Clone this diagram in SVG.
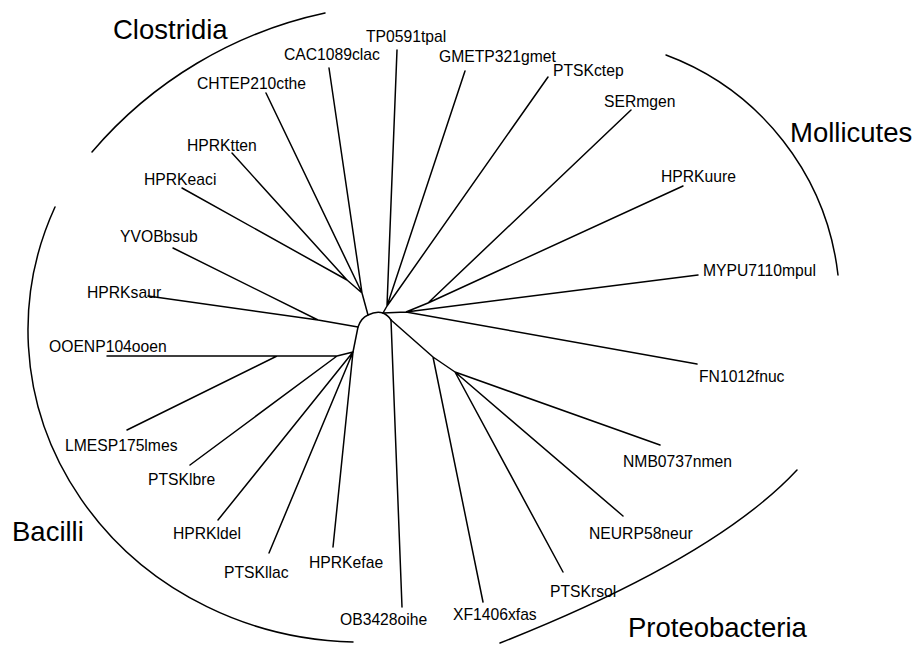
<svg xmlns="http://www.w3.org/2000/svg" width="915" height="645" viewBox="0 0 915 645">
<style>
text { font-family: "Liberation Sans", Arial, Helvetica, sans-serif; fill: #000; }
.lf { font-size: 15.7px; }
.cl { font-size: 27.5px; }
.br { stroke: #000; stroke-width: 1.5; fill: none; stroke-linecap: round; stroke-linejoin: round; }
</style>
<rect width="915" height="645" fill="#fff"/>
<g id="clades">
  <g id="clade-clostridia"><path class="br" d="M92,152 A422,422 0 0 1 325,13"/><text class="cl" x="113" y="39">Clostridia</text></g>
  <g id="clade-mollicutes"><path class="br" d="M666,55 A267,267 0 0 1 838,275"/><text class="cl" x="790" y="142">Mollicutes</text></g>
  <g id="clade-bacilli"><path class="br" d="M55,207 A333,312 0 0 0 353,642"/><text class="cl" x="12" y="541">Bacilli</text></g>
  <g id="clade-proteobacteria"><path class="br" d="M797,470 Q715,558 500,643"/><text class="cl" x="628" y="637">Proteobacteria</text></g>
</g>
<g id="connectors">
  <path class="br" d="M397,50 L387,306 M465,71 L387,306 M548,77 L387,306 M387,306 L383,313"/>
  <path class="br" d="M329,68 L362,293 M266,93 L362,293 M232,153 L347,280 M182,188 L347,280 M347,280 L362,293 M362,293 L368,315"/>
  <path class="br" d="M358,327 Q361,318 368,315 Q376,311 383,313 Q388,315 391,320"/>
  <path class="br" d="M173,248 L318,320 M148,296 L318,320 M318,320 L358,327 M358,327 L353,352"/>
  <path class="br" d="M107,356 L337,356 L353,352 M127,430 L277,356 M190,465 L337,356 M218,520 L353,352 M269,553 L353,352 M333,547 L353,352"/>
  <path class="br" d="M391,320 L402,607"/>
  <path class="br" d="M391,320 L433,357 L455,372 L660,445 M433,357 L483,602 M455,372 L623,516 M455,372 L563,572"/>
  <path class="br" d="M383,313 L406,312 L428,303 L631,110 M428,303 L683,186 M406,312 L698,275 M406,312 L697,364"/>
</g>
<g id="TP0591tpal"><text class="lf" x="366" y="42">TP0591tpal</text></g>
<g id="CAC1089clac"><text class="lf" x="284" y="60">CAC1089clac</text></g>
<g id="CHTEP210cthe"><text class="lf" x="197" y="89">CHTEP210cthe</text></g>
<g id="GMETP321gmet"><text class="lf" x="439" y="62">GMETP321gmet</text></g>
<g id="PTSKctep"><text class="lf" x="553" y="76">PTSKctep</text></g>
<g id="SERmgen"><text class="lf" x="604" y="107">SERmgen</text></g>
<g id="HPRKuure"><text class="lf" x="661" y="182">HPRKuure</text></g>
<g id="MYPU7110mpul"><text class="lf" x="703" y="276">MYPU7110mpul</text></g>
<g id="FN1012fnuc"><text class="lf" x="699" y="382">FN1012fnuc</text></g>
<g id="NMB0737nmen"><text class="lf" x="623" y="467">NMB0737nmen</text></g>
<g id="NEURP58neur"><text class="lf" x="589" y="539">NEURP58neur</text></g>
<g id="PTSKrsol"><text class="lf" x="550" y="597">PTSKrsol</text></g>
<g id="XF1406xfas"><text class="lf" x="453" y="620">XF1406xfas</text></g>
<g id="OB3428oihe"><text class="lf" x="340" y="625">OB3428oihe</text></g>
<g id="HPRKefae"><text class="lf" x="309" y="568">HPRKefae</text></g>
<g id="PTSKllac"><text class="lf" x="224" y="578">PTSKllac</text></g>
<g id="HPRKldel"><text class="lf" x="173" y="539">HPRKldel</text></g>
<g id="PTSKlbre"><text class="lf" x="148" y="485">PTSKlbre</text></g>
<g id="LMESP175lmes"><text class="lf" x="65" y="451">LMESP175lmes</text></g>
<g id="OOENP104ooen"><text class="lf" x="49" y="352">OOENP104ooen</text></g>
<g id="HPRKsaur"><text class="lf" x="87" y="298">HPRKsaur</text></g>
<g id="YVOBbsub"><text class="lf" x="120" y="242">YVOBbsub</text></g>
<g id="HPRKeaci"><text class="lf" x="144" y="185">HPRKeaci</text></g>
<g id="HPRKtten"><text class="lf" x="187" y="151">HPRKtten</text></g>
</svg>
